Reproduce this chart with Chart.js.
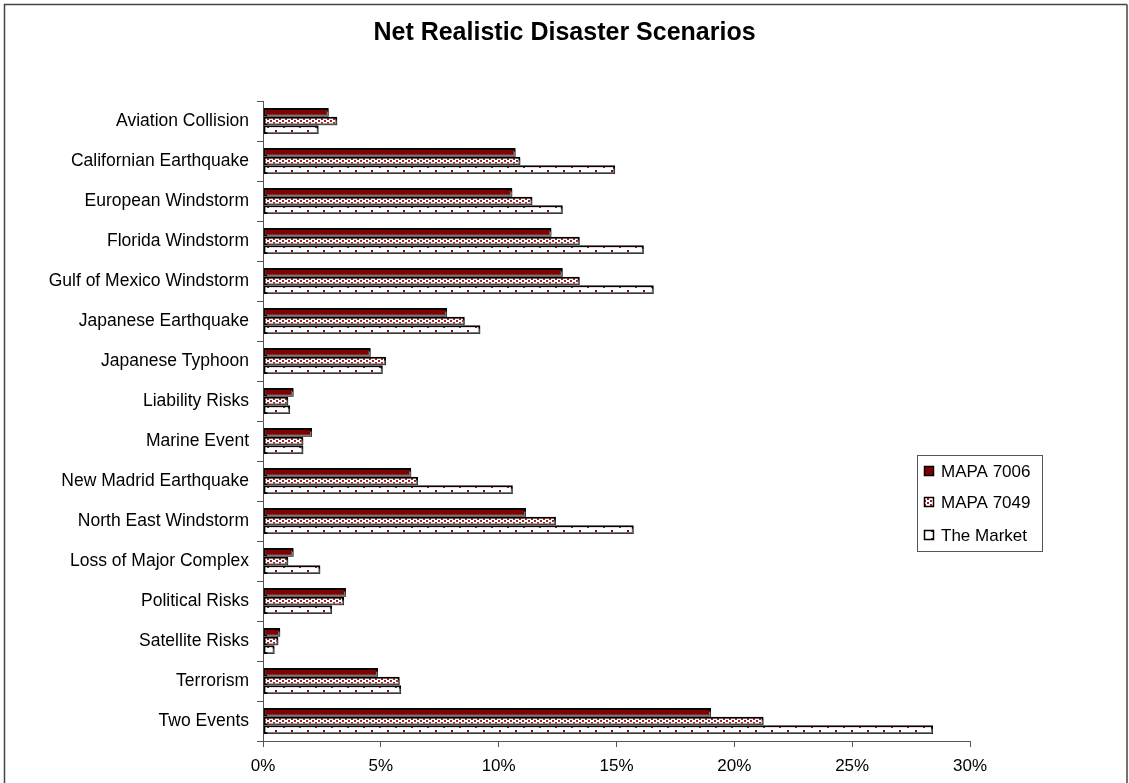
<!DOCTYPE html>
<html>
<head>
<meta charset="utf-8">
<script src="https://cdn.jsdelivr.net/npm/chart.js@4/dist/chart.umd.min.js"></script>
<style>
  html, body { margin: 0; padding: 0; background: #fff; }
  #wrap { width: 1129px; height: 783px; position: relative; }
</style>
</head>
<body>
<div id="wrap"><canvas id="c" width="1129" height="783"></canvas></div>
<script>
const categories = [
  "Aviation Collision", "Californian Earthquake", "European Windstorm",
  "Florida Windstorm", "Gulf of Mexico Windstorm", "Japanese Earthquake",
  "Japanese Typhoon", "Liability Risks", "Marine Event", "New Madrid Earthquake",
  "North East Windstorm", "Loss of Major Complex", "Political Risks",
  "Satellite Risks", "Terrorism", "Two Events"
];
const seriesNames = ["MAPA 7006", "MAPA 7049", "The Market"];
const mapa7006 = [2.79, 10.72, 10.58, 12.24, 12.72, 7.81, 4.57, 1.30, 2.08, 6.29, 11.16, 1.30, 3.52, 0.73, 4.88, 19.01];
const mapa7049 = [3.15, 10.92, 11.43, 13.44, 13.44, 8.56, 5.22, 1.07, 1.71, 6.58, 12.43, 1.07, 3.44, 0.65, 5.80, 21.24];
const market   = [2.36, 14.94, 12.72, 16.16, 16.58, 9.22, 5.08, 1.15, 1.71, 10.60, 15.73, 2.43, 2.93, 0.49, 5.86, 28.43];
const xTickValues = [0, 5, 10, 15, 20, 25, 30];

const FONT = "'Liberation Sans', Arial, Helvetica, sans-serif";
const RED = '#800000';

function makePattern(w, h, dots, size, color) {
  const c = document.createElement('canvas');
  c.width = w; c.height = h;
  const g = c.getContext('2d');
  g.fillStyle = '#ffffff';
  g.fillRect(0, 0, w, h);
  g.fillStyle = color;
  dots.forEach(d => g.fillRect(d[0], d[1], size, size));
  return document.createElement('canvas').getContext('2d').createPattern(c, 'repeat');
}
const denseFill = makePattern(6, 4, [[0, 0], [3, 2]], 2, '#a81c1c');
const sparseFill = makePattern(16, 8, [[3, 2], [11, 6]], 2, '#8a0000');
const fills = [RED, denseFill, sparseFill];

const shadowPlugin = {
  id: 'barShadow',
  beforeDatasetsDraw(chart) {
    const ctx = chart.ctx;
    ctx.save();
    ctx.shadowColor = 'rgba(150,150,150,0.8)';
    ctx.shadowOffsetX = 1.5;
    ctx.shadowOffsetY = 1.5;
    ctx.shadowBlur = 0;
  },
  afterDatasetsDraw(chart) { chart.ctx.restore(); }
};

const framePlugin = {
  id: 'frameAndLegend',
  afterDraw(chart) {
    const ctx = chart.ctx;
    ctx.save();
    ctx.strokeStyle = '#444';
    ctx.lineWidth = 1.5;
    ctx.beginPath();
    ctx.moveTo(1127, 4.5); ctx.lineTo(4.5, 4.5); ctx.lineTo(4.5, 790);
    ctx.moveTo(1127, 4.5); ctx.lineTo(1127, 790);
    ctx.stroke();
    const bx = 917.5, by = 455.5, bw = 125, bh = 96;
    ctx.fillStyle = '#fff';
    ctx.fillRect(bx, by, bw, bh);
    ctx.strokeStyle = '#555';
    ctx.lineWidth = 1;
    ctx.strokeRect(bx, by, bw, bh);
    ctx.font = '17px ' + FONT;
    ctx.textBaseline = 'middle';
    ctx.textAlign = 'left';
    const ys = [471, 502, 535];
    chart.data.datasets.forEach((ds, i) => {
      const y = ys[i];
      ctx.fillStyle = ds.backgroundColor;
      ctx.fillRect(924, y - 5, 10, 10);
      ctx.strokeStyle = '#000';
      ctx.lineWidth = 1.5;
      ctx.strokeRect(924.5, y - 4.5, 9, 9);
      ctx.fillStyle = '#000';
      ctx.fillText(ds.label, 941, y + 1);
    });
    ctx.restore();
  }
};

new Chart(document.getElementById('c'), {
  type: 'bar',
  data: {
    labels: categories,
    datasets: [mapa7006, mapa7049, market].map((vals, i) => ({
      label: seriesNames[i],
      data: vals,
      backgroundColor: fills[i],
      borderColor: '#000',
      borderWidth: 2,
      borderSkipped: false,
      categoryPercentage: 0.65,
      barPercentage: 1.0
    }))
  },
  options: {
    indexAxis: 'y',
    responsive: false,
    animation: false,
    events: [],
    layout: { padding: 0 },
    plugins: {
      legend: { display: false },
      tooltip: { enabled: false },
      title: {
        display: true,
        text: 'Net Realistic Disaster Scenarios',
        color: '#000',
        font: { family: FONT, size: 25, weight: 'bold' },
        padding: { top: 18, bottom: 53 }
      }
    },
    scales: {
      x: {
        min: xTickValues[0],
        max: xTickValues[xTickValues.length - 1],
        afterBuildTicks(scale) { scale.ticks = xTickValues.map(v => ({ value: v })); },
        afterFit(scale) { scale.height = 42; },
        grid: { drawOnChartArea: false, drawTicks: true, tickLength: 6, color: '#555', lineWidth: 1 },
        border: { display: true, color: '#555', width: 1 },
        ticks: {
          color: '#000',
          font: { family: FONT, size: 17 },
          padding: 9,
          maxRotation: 0,
          callback: v => v + '%'
        }
      },
      y: {
        afterFit(scale) { scale.width = 263; },
        grid: { drawOnChartArea: false, drawTicks: true, tickLength: 6, color: '#555', lineWidth: 1, offset: true },
        border: { display: true, color: '#555', width: 1 },
        ticks: {
          color: '#000',
          font: { family: FONT, size: 17.5 },
          padding: 8,
          autoSkip: false
        }
      },
      rightSpace: {
        type: 'linear',
        position: 'right',
        display: true,
        afterFit(scale) { scale.width = 159; },
        grid: { display: false, drawTicks: false },
        border: { display: false },
        ticks: { display: false }
      }
    }
  },
  plugins: [shadowPlugin, framePlugin]
});
</script>
</body>
</html>
